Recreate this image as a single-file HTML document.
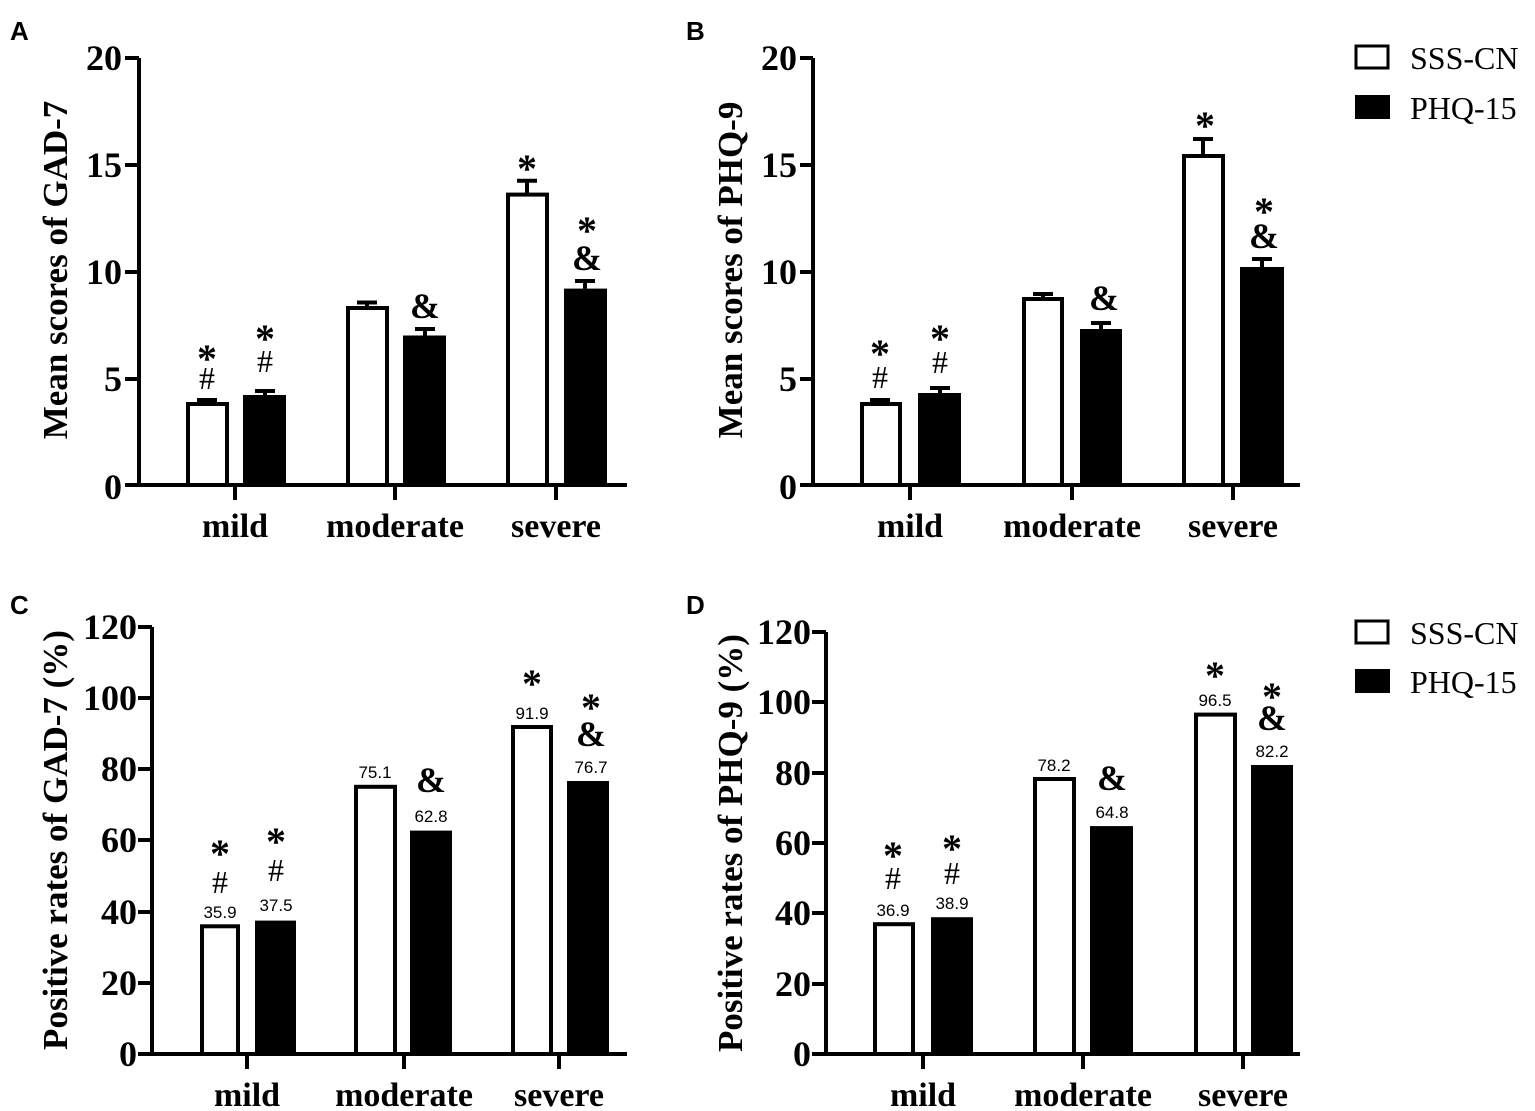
<!DOCTYPE html>
<html><head><meta charset="utf-8"><style>
html,body{margin:0;padding:0;background:#fff;}
svg{display:block;}
.t{font-family:"Liberation Serif",serif;font-weight:bold;font-size:36px;}
.y{font-family:"Liberation Serif",serif;font-weight:bold;font-size:35px;}
.c{font-family:"Liberation Serif",serif;font-weight:bold;font-size:34px;}
.s{font-family:"Liberation Serif",serif;font-weight:bold;font-size:40px;}
.h{font-family:"Liberation Serif",serif;font-size:32px;}
.a{font-family:"Liberation Serif",serif;font-weight:bold;font-size:36px;}
.v{font-family:"Liberation Sans",sans-serif;font-size:17px;}
.p{font-family:"Liberation Sans",sans-serif;font-weight:bold;font-size:26px;}
.l{font-family:"Liberation Serif",serif;font-size:32px;}
</style></head><body>
<svg width="1535" height="1111" viewBox="0 0 1535 1111" xmlns="http://www.w3.org/2000/svg">
<g fill="none" stroke="#000" stroke-width="4">
<path d="M139 58V485M125 485H627M125 58H139M125 165H139M125 272H139M125 379H139M235 485V500M395 485V500M556 485V500"/>
<path d="M813 58V485M800 485H1300M800 58H813M800 165H813M800 272H813M800 379H813M910 485V500M1072 485V500M1233 485V500"/>
<path d="M152 627V1054M138 1054H627M138 627H152M138 698H152M138 769H152M138 840H152M138 912H152M138 983H152M247 1054V1069M404 1054V1069M559 1054V1069"/>
<path d="M826 632V1054M812 1054H1300M812 632H826M812 702H826M812 773H826M812 843H826M812 913H826M812 984H826M923 1054V1069M1083 1054V1069M1243 1054V1069"/>
<path d="M207 404V400M197 400H217M265 395V391M255 391H275M367 308V302.5M357 302.5H377M425 335.5V329M415 329H435M527 194.6V180.8M517 180.8H537M585 288.6V281M575 281H595"/>
<path d="M880 404V400M870 400H890M940 393V388M930 388H950M1043 299V294M1033 294H1053M1101 329V323M1091 323H1111M1203 156V139M1193 139H1213M1262 267V259M1252 259H1272"/>
</g>
<rect x="188" y="404" width="39" height="81" fill="#fff" stroke="#000" stroke-width="4"/>
<rect x="243" y="395" width="43" height="90" fill="#000"/>
<rect x="348" y="308" width="39" height="177" fill="#fff" stroke="#000" stroke-width="4"/>
<rect x="403" y="335.5" width="43" height="149.5" fill="#000"/>
<rect x="508" y="194.6" width="39" height="290.4" fill="#fff" stroke="#000" stroke-width="4"/>
<rect x="564" y="288.6" width="43" height="196.4" fill="#000"/>
<rect x="862" y="404" width="38" height="81" fill="#fff" stroke="#000" stroke-width="4"/>
<rect x="918" y="393" width="43" height="92" fill="#000"/>
<rect x="1024" y="299" width="38" height="186" fill="#fff" stroke="#000" stroke-width="4"/>
<rect x="1080" y="329" width="42" height="156" fill="#000"/>
<rect x="1184" y="156" width="39" height="329" fill="#fff" stroke="#000" stroke-width="4"/>
<rect x="1240" y="267" width="44" height="218" fill="#000"/>
<rect x="202" y="926.3" width="36" height="127.7" fill="#fff" stroke="#000" stroke-width="4"/>
<rect x="255" y="920.6" width="41" height="133.4" fill="#000"/>
<rect x="356" y="786.8" width="39" height="267.2" fill="#fff" stroke="#000" stroke-width="4"/>
<rect x="410" y="830.6" width="42" height="223.4" fill="#000"/>
<rect x="513" y="727" width="38" height="327" fill="#fff" stroke="#000" stroke-width="4"/>
<rect x="567" y="781" width="42" height="273" fill="#000"/>
<rect x="875" y="924.2" width="38" height="129.8" fill="#fff" stroke="#000" stroke-width="4"/>
<rect x="931" y="917.2" width="42" height="136.8" fill="#000"/>
<rect x="1035" y="779" width="39" height="275" fill="#fff" stroke="#000" stroke-width="4"/>
<rect x="1090" y="826.1" width="43" height="227.9" fill="#000"/>
<rect x="1196" y="714.6" width="39" height="339.4" fill="#fff" stroke="#000" stroke-width="4"/>
<rect x="1251" y="765" width="42" height="289" fill="#000"/>

<text class="p" x="10" y="40">A</text>
<text class="p" x="686" y="40">B</text>
<text class="p" x="10" y="614">C</text>
<text class="p" x="686" y="614">D</text>

<g class="t" text-anchor="end" dominant-baseline="central">
<text x="122" y="58">20</text><text x="122" y="165">15</text><text x="122" y="272">10</text><text x="122" y="379">5</text><text x="122" y="487">0</text>
<text x="797" y="58">20</text><text x="797" y="165">15</text><text x="797" y="272">10</text><text x="797" y="379">5</text><text x="797" y="487">0</text>
<text x="137" y="627">120</text><text x="137" y="698">100</text><text x="137" y="769">80</text><text x="137" y="840">60</text><text x="137" y="912">40</text><text x="137" y="983">20</text><text x="137" y="1054">0</text>
<text x="811" y="632">120</text><text x="811" y="702">100</text><text x="811" y="773">80</text><text x="811" y="843">60</text><text x="811" y="913">40</text><text x="811" y="984">20</text><text x="811" y="1054">0</text>
</g>
<text class="y" text-anchor="middle" transform="translate(67,270) rotate(-90)">Mean scores of GAD-7</text>
<text class="y" text-anchor="middle" transform="translate(742,270) rotate(-90)">Mean scores of PHQ-9</text>
<text class="y" text-anchor="middle" transform="translate(67,840) rotate(-90)">Positive rates of GAD-7 (%)</text>
<text class="y" text-anchor="middle" transform="translate(742,843) rotate(-90)">Positive rates of PHQ-9 (%)</text>
<g class="c" text-anchor="middle">
<text x="235" y="537">mild</text><text x="395" y="537">moderate</text><text x="556" y="537">severe</text>
<text x="910" y="537">mild</text><text x="1072" y="537">moderate</text><text x="1233" y="537">severe</text>
<text x="247" y="1106">mild</text><text x="404" y="1106">moderate</text><text x="559" y="1106">severe</text>
<text x="923" y="1106">mild</text><text x="1083" y="1106">moderate</text><text x="1243" y="1106">severe</text>
</g>
<g text-anchor="middle">
<text class="s" x="207" y="372">*</text><text class="h" x="207" y="389">#</text>
<text class="s" x="265" y="352">*</text><text class="h" x="265" y="372">#</text>
<text class="a" x="425" y="318">&amp;</text>
<text class="s" x="527" y="182">*</text>
<text class="s" x="587" y="244">*</text><text class="a" x="587" y="270">&amp;</text>
<text class="s" x="880" y="367">*</text><text class="h" x="880" y="388">#</text>
<text class="s" x="940" y="352">*</text><text class="h" x="940" y="373">#</text>
<text class="a" x="1104" y="310">&amp;</text>
<text class="s" x="1205" y="139">*</text>
<text class="s" x="1264" y="225">*</text><text class="a" x="1264" y="248">&amp;</text>
<text class="s" x="220" y="867">*</text><text class="h" x="220" y="893">#</text><text class="v" x="220" y="918">35.9</text>
<text class="s" x="276" y="855">*</text><text class="h" x="276" y="881">#</text><text class="v" x="276" y="911">37.5</text>
<text class="v" x="375" y="778">75.1</text>
<text class="a" x="431" y="792">&amp;</text><text class="v" x="431" y="822">62.8</text>
<text class="s" x="532" y="697">*</text><text class="v" x="532" y="719">91.9</text>
<text class="s" x="591" y="721">*</text><text class="a" x="591" y="746">&amp;</text><text class="v" x="591" y="773">76.7</text>
<text class="s" x="893" y="869">*</text><text class="h" x="893" y="889">#</text><text class="v" x="893" y="916">36.9</text>
<text class="s" x="952" y="862">*</text><text class="h" x="952" y="884">#</text><text class="v" x="952" y="909">38.9</text>
<text class="v" x="1054" y="771">78.2</text>
<text class="a" x="1112" y="790">&amp;</text><text class="v" x="1112" y="818">64.8</text>
<text class="s" x="1215" y="689">*</text><text class="v" x="1215" y="706">96.5</text>
<text class="s" x="1272" y="710">*</text><text class="a" x="1272" y="730">&amp;</text><text class="v" x="1272" y="757">82.2</text>
</g>
<rect x="1356" y="46" width="32" height="22" fill="#fff" stroke="#000" stroke-width="3"/>
<rect x="1355" y="95" width="35" height="24" fill="#000"/>
<text class="l" x="1410" y="69">SSS-CN</text>
<text class="l" x="1410" y="119">PHQ-15</text>
<rect x="1356" y="621" width="32" height="22" fill="#fff" stroke="#000" stroke-width="3"/>
<rect x="1355" y="669" width="35" height="24" fill="#000"/>
<text class="l" x="1410" y="644">SSS-CN</text>
<text class="l" x="1410" y="693">PHQ-15</text>
</svg>
</body></html>
